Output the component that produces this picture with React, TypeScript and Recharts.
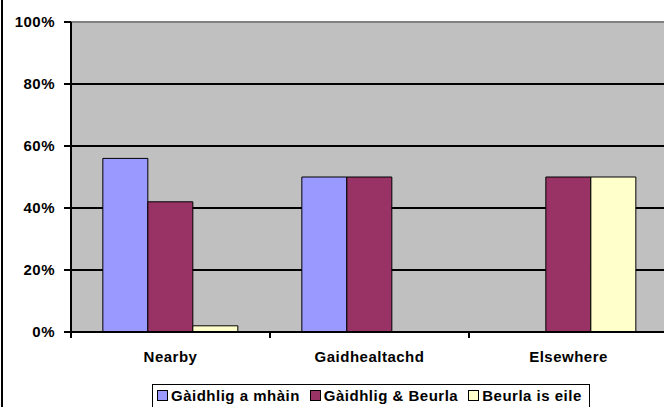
import React from "react";
import {
  BarChart,
  Bar,
  XAxis,
  YAxis,
  CartesianGrid,
  ReferenceLine,
} from "recharts";

const categories = ["Nearby", "Gaidhealtachd", "Elsewhere"];
const mhain = [56, 50, 0];
const beurla = [42, 50, 50];
const eile = [2, 0, 50];
const seriesNames = ["Gàidhlig a mhàin", "Gàidhlig & Beurla", "Beurla is eile"];
const seriesColors = ["#9999FF", "#993366", "#FFFFCC"];
const yTicks = [0, 20, 40, 60, 80, 100];

const data = categories.map((name, i) => ({
  name,
  mhain: mhain[i],
  beurla: beurla[i],
  eile: eile[i],
}));
const keys = ["mhain", "beurla", "eile"];

const font = "'Liberation Sans', Arial, sans-serif";
const textStyle = { fontFamily: font, fontWeight: 700, fontSize: 15, letterSpacing: 0.5 };

function XTick(props: any) {
  const { x, y, payload } = props;
  const half = payload?.offset ?? 99.5;
  return (
    <g>
      <line x1={x - half} x2={x - half} y1={y} y2={y + 6} stroke="#000" strokeWidth={2} />
      <text x={x} y={y + 30} textAnchor="middle" fill="#000" style={textStyle}>
        {payload.value}
      </text>
    </g>
  );
}

export default function App() {
  return (
    <div
      style={{
        position: "absolute",
        left: 0,
        top: 0,
        width: 664,
        height: 407,
        overflow: "hidden",
        background: "#fff",
      }}
    >
      <div style={{ position: "absolute", left: 1, top: 0, width: 2, height: 407, background: "#000" }} />
      <BarChart
        width={668}
        height={407}
        data={data}
        margin={{ top: 22, right: 0, left: 0, bottom: 45 }}
        barCategoryGap="16%"
        barGap={0}
      >
        <CartesianGrid vertical={false} stroke="#000" strokeWidth={2} fill="#C0C0C0" fillOpacity={1} />
        <XAxis
          dataKey="name"
          height={30}
          axisLine={{ stroke: "#000", strokeWidth: 2 }}
          tickLine={false}
          tickSize={0}
          tickMargin={0}
          tick={<XTick />}
          interval={0}
        />
        <YAxis
          width={71}
          domain={[0, 100]}
          ticks={yTicks}
          tickFormatter={(v) => `${v}%`}
          axisLine={{ stroke: "#000", strokeWidth: 2 }}
          tickLine={{ stroke: "#000", strokeWidth: 2 }}
          tickSize={7}
          tickMargin={9}
          tick={{ fill: "#000", ...textStyle }}
          interval={0}
        />
        <ReferenceLine y={100} stroke="#808080" strokeWidth={2} />
        {keys.map((k, i) => (
          <Bar
            key={k}
            dataKey={k}
            name={seriesNames[i]}
            fill={seriesColors[i]}
            stroke="#000"
            strokeWidth={1}
            isAnimationActive={false}
          />
        ))}
      </BarChart>
      <div
        style={{
          position: "absolute",
          left: 152,
          top: 384,
          width: 438,
          height: 30,
          border: "1px solid #000",
          display: "flex",
          alignItems: "flex-start",
          paddingTop: 2,
          paddingLeft: 4,
          boxSizing: "border-box",
          gap: 10,
          ...textStyle,
          lineHeight: "17px",
          whiteSpace: "nowrap",
        }}
      >
        {seriesNames.map((n, i) => (
          <div key={n} style={{ display: "flex", alignItems: "center" }}>
            <span
              style={{
                display: "inline-block",
                width: 9,
                height: 9,
                border: "1px solid #000",
                background: seriesColors[i],
                marginRight: 3,
              }}
            />
            <span>{n}</span>
          </div>
        ))}
      </div>
    </div>
  );
}
